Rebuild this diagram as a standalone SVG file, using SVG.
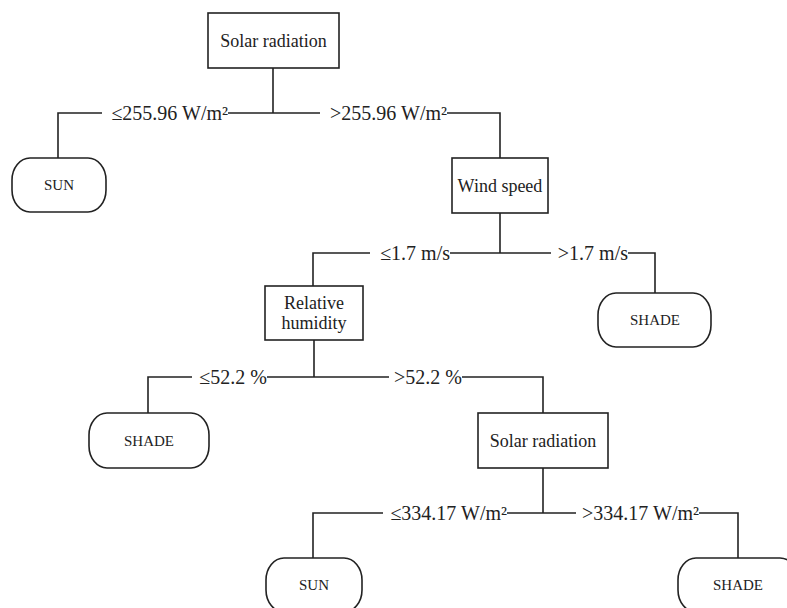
<svg xmlns="http://www.w3.org/2000/svg" width="787" height="608" viewBox="0 0 787 608">
<style>
.box{fill:#fff;stroke:#222;stroke-width:1.6}
.term{fill:#fff;stroke:#222;stroke-width:1.6}
.ln{fill:none;stroke:#222;stroke-width:1.6}
.nt{font-family:"Liberation Serif","Times New Roman",serif;font-size:18px;fill:#222;text-anchor:middle}
.tt{font-family:"Liberation Serif","Times New Roman",serif;font-size:15px;fill:#222;text-anchor:middle}
.lb{font-family:"Liberation Serif","Times New Roman",serif;font-size:20px;fill:#222;text-anchor:end}
</style>
<rect width="787" height="608" fill="#fff"/>
<g id="connectors">
<path class="ln" d="M273 68V113M273 113H228M102 113H58V158M273 113H320M447 113H500V158"/>
<path class="ln" d="M500 253V213M500 253H450M370 253H313V286M500 253H551M628 253H655V293"/>
<path class="ln" d="M314 340V377M314 377H267M192 377H148V413M314 377H389M462 377H543V413"/>
<path class="ln" d="M543 468V513M543 513H507M383 513H313V558M543 513H576M699 513H738V558"/>
<text class="lb" x="228" y="119.5">≤255.96 W/m²</text>
<text class="lb" x="447" y="119.5">&gt;255.96 W/m²</text>
<text class="lb" x="450" y="259.5">≤1.7 m/s</text>
<text class="lb" x="628" y="259.5">&gt;1.7 m/s</text>
<text class="lb" x="267" y="383.5">≤52.2 %</text>
<text class="lb" x="462" y="383.5">&gt;52.2 %</text>
<text class="lb" x="507" y="519.5">≤334.17 W/m²</text>
<text class="lb" x="699" y="519.5">&gt;334.17 W/m²</text>
</g>
<g id="n1"><rect class="box" x="208" y="13" width="131" height="55"/><text class="nt" x="273.5" y="47">Solar radiation</text></g>
<g id="t1"><rect class="term" x="12" y="158" width="94" height="54" rx="18" ry="22"/><text class="tt" x="59" y="190">SUN</text></g>
<g id="n2"><rect class="box" x="452" y="158" width="96" height="55"/><text class="nt" x="500" y="192">Wind speed</text></g>
<g id="t2"><rect class="term" x="598" y="293" width="113" height="54" rx="18" ry="22"/><text class="tt" x="655" y="325">SHADE</text></g>
<g id="n3"><rect class="box" x="265" y="286" width="98" height="54"/><text class="nt" x="314" y="309">Relative</text><text class="nt" x="314" y="329">humidity</text></g>
<g id="t3"><rect class="term" x="89" y="413" width="120" height="55" rx="18" ry="22"/><text class="tt" x="149" y="445.5">SHADE</text></g>
<g id="n4"><rect class="box" x="478" y="413" width="130" height="55"/><text class="nt" x="543" y="447">Solar radiation</text></g>
<g id="t4"><rect class="term" x="266" y="558" width="96" height="54" rx="18" ry="22"/><text class="tt" x="314" y="590">SUN</text></g>
<g id="t5"><rect class="term" x="678" y="558" width="120" height="54" rx="18" ry="22"/><text class="tt" x="738" y="590">SHADE</text></g>
</svg>
